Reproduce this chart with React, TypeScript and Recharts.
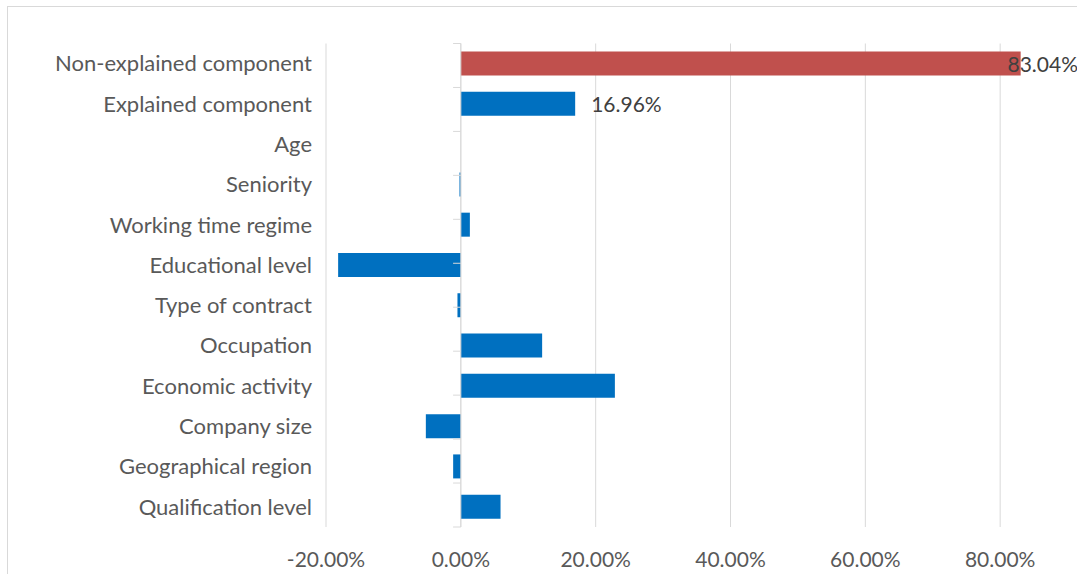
import React from 'react';
import {
    BarChart,
    Bar,
    Cell,
    XAxis,
    YAxis,
    CartesianGrid,
    LabelList,
    ReferenceLine,
} from 'recharts';

const categories = [
    'Non-explained component',
    'Explained component',
    'Age',
    'Seniority',
    'Working time regime',
    'Educational level',
    'Type of contract',
    'Occupation',
    'Economic activity',
    'Company size',
    'Geographical region',
    'Qualification level',
];

const shares = [83.04, 16.96, 0, -0.2, 1.34, -18.2, -0.5, 12.06, 22.85, -5.19, -1.14, 5.89];

const labelledCategories = ['Non-explained component', 'Explained component'];

const xTicks = [-20, 0, 20, 40, 60, 80];

const BLUE = '#0070C0';
const RED = '#C0504D';
const GRID = '#D9D9D9';
const FONT = 'Lato, "Open Sans", sans-serif';

const CHART_W = 1150;
const CHART_H = 600;
const LABEL_LIMIT = 1070; // right edge of the chart area as seen in the picture

const data = categories.map((name, i) => ({
    name,
    value: shares[i],
    showLabel: labelledCategories.includes(name),
}));

// boundaries between categories, for the little tick marks left of the zero line
const boundaries = Array.from({ length: categories.length + 1 }, (_, i) => i);

function fmt(v: number) {
    return `${v.toFixed(2)}%`;
}

// eslint-disable-next-line @typescript-eslint/no-explicit-any
function BarLabel(props: any) {
    const { x, y, width, height, index } = props;
    const row = data[index];
    if (!row || !row.showLabel) return null;
    const text = fmt(row.value);
    const end = x + width;
    const approxW = text.length * 11.6;
    const fits = end + 16 + approxW <= LABEL_LIMIT;
    return (
        <text
            x={fits ? end + 16 : LABEL_LIMIT}
            y={y + height / 2}
            textAnchor={fits ? 'start' : 'end'}
            dominantBaseline="central"
            fill="#404040"
            fontSize={21}
            fontFamily={FONT}
        >
            {text}
        </text>
    );
}

export default function App() {
    return (
        <div style={{ position: 'fixed', left: 0, top: 0, width: 1077, height: 574, overflow: 'hidden', background: '#fff' }}>
            <div
                style={{
                    position: 'absolute',
                    left: 7,
                    top: 6,
                    width: CHART_W + 2,
                    height: CHART_H + 2,
                    border: `1px solid ${GRID}`,
                    boxSizing: 'border-box',
                }}
            >
                <BarChart
                    width={CHART_W}
                    height={CHART_H}
                    data={data}
                    layout="vertical"
                    margin={{ top: 36.5, right: 23, left: 0, bottom: 30 }}
                >
                    <CartesianGrid horizontal={false} stroke={GRID} strokeWidth={1} />
                    <XAxis
                        type="number"
                        domain={[-20, 100]}
                        ticks={xTicks}
                        axisLine={false}
                        tickLine={false}
                        tickSize={0}
                        tickMargin={25}
                        height={50}
                        tickFormatter={fmt}
                        tick={{ fill: '#595959', fontSize: 21, fontFamily: FONT }}
                    />
                    <YAxis
                        type="category"
                        dataKey="name"
                        width={318}
                        axisLine={false}
                        tickLine={false}
                        tickSize={0}
                        tickMargin={14}
                        interval={0}
                        tick={{ fill: '#595959', fontSize: 22, fontFamily: FONT }}
                    />
                    <YAxis yAxisId="bands" type="number" domain={[0, categories.length]} hide />
                    <ReferenceLine x={0} stroke={GRID} strokeWidth={1} />
                    {boundaries.map(b => (
                        <ReferenceLine
                            key={b}
                            yAxisId="bands"
                            segment={[{ x: -1.15, y: b }, { x: 0, y: b }]}
                            stroke={GRID}
                            strokeWidth={1}
                        />
                    ))}
                    <Bar dataKey="value" barSize={24} isAnimationActive={false}>
                        {data.map((row, i) => (
                            <Cell key={row.name} fill={i === 0 ? RED : BLUE} />
                        ))}
                        <LabelList dataKey="value" content={<BarLabel />} />
                    </Bar>
                </BarChart>
            </div>
        </div>
    );
}
